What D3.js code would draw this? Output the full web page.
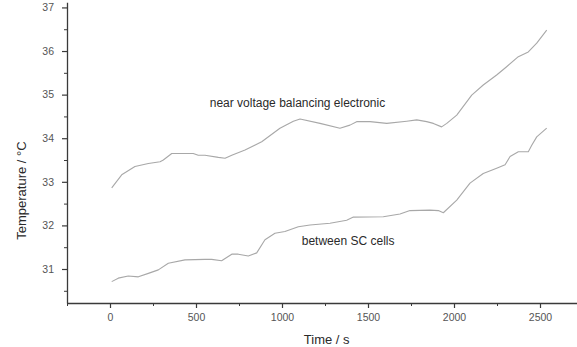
<!DOCTYPE html>
<html>
<head>
<meta charset="utf-8">
<script src="https://cdn.jsdelivr.net/npm/d3@7/dist/d3.min.js"></script>
<style>
  html, body { margin: 0; padding: 0; background: #fff; }
  svg { display: block; font-family: "Liberation Sans", Arial, sans-serif; }
</style>
</head>
<body>
<svg id="chart" width="577" height="347"></svg>
<script>
// Temperature logged near the voltage balancing electronic (s, °C)
const nearTime = [10, 68, 145, 223, 291, 310, 359, 484, 513, 552, 630, 669, 708, 785, 882, 988, 1066, 1105,
  1221, 1337, 1395, 1434, 1512, 1609, 1725, 1783, 1841, 1880, 1928, 1958, 2016, 2103, 2170, 2248, 2306,
  2374, 2432, 2481, 2539];
const nearTemp = [32.86, 33.16, 33.35, 33.42, 33.46, 33.50, 33.65, 33.65, 33.61, 33.61, 33.56, 33.54, 33.61,
  33.73, 33.92, 34.23, 34.39, 34.44, 34.34, 34.23, 34.30, 34.38, 34.38, 34.34, 34.39, 34.42, 34.38, 34.34,
  34.26, 34.34, 34.53, 34.99, 35.22, 35.45, 35.64, 35.87, 35.98, 36.18, 36.48];

// Temperature logged between the SC cells (s, °C)
const cellTime = [10, 48, 106, 165, 223, 281, 339, 436, 552, 591, 649, 708, 746, 804, 853, 901, 959, 1017,
  1095, 1163, 1279, 1376, 1415, 1589, 1686, 1744, 1860, 1909, 1938, 2016, 2093, 2170, 2248, 2297, 2326,
  2374, 2432, 2452, 2481, 2539];
const cellTemp = [30.71, 30.79, 30.84, 30.82, 30.90, 30.98, 31.13, 31.21, 31.22, 31.22, 31.19, 31.34, 31.34,
  31.30, 31.37, 31.67, 31.82, 31.86, 31.97, 32.01, 32.05, 32.12, 32.19, 32.20, 32.26, 32.34, 32.35, 32.34,
  32.29, 32.58, 32.97, 33.19, 33.31, 33.39, 33.58, 33.69, 33.69, 33.84, 34.03, 34.23];

const xTicks = [0, 500, 1000, 1500, 2000, 2500];
const xMinorTicks = [-250, 250, 750, 1250, 1750, 2250, 2750];
const yTicks = [31, 32, 33, 34, 35, 36, 37];
const yMinorTicks = [30.5, 31.5, 32.5, 33.5, 34.5, 35.5, 36.5];

const seriesLabels = ["near voltage balancing electronic", "between SC cells"];
const xTitle = "Time / s";
const yTitle = "Temperature / \u00B0C";

const svg = d3.select("#chart");

const x = d3.scaleLinear().domain([-250, 2750]).range([67, 583]);
const y = d3.scaleLinear().domain([30.22, 37.12]).range([303, 2.2]);

const axisColor = "#3a3a3a";
const tickText = "#555";
const fmt = d3.format("d");

// minor ticks first, so the major axis draws over them
const xMinor = d3.axisBottom(x).tickValues(xMinorTicks).tickSize(3).tickFormat("");
svg.append("g").attr("transform", `translate(0,${y.range()[0]})`).call(xMinor)
  .call(g => g.select(".domain").remove())
  .call(g => g.selectAll("line").attr("stroke", axisColor));

const yMinor = d3.axisLeft(y).tickValues(yMinorTicks).tickSize(3).tickFormat("");
svg.append("g").attr("transform", `translate(${x.range()[0]},0)`).call(yMinor)
  .call(g => g.select(".domain").remove())
  .call(g => g.selectAll("line").attr("stroke", axisColor));

const xAxis = d3.axisBottom(x).tickValues(xTicks).tickFormat(fmt).tickSize(5).tickSizeOuter(0).tickPadding(6);
svg.append("g").attr("transform", `translate(0,${y.range()[0]})`).call(xAxis)
  .call(g => g.select(".domain").attr("stroke", axisColor).attr("stroke-width", 1.3))
  .call(g => g.selectAll("line").attr("stroke", axisColor).attr("stroke-width", 1.2))
  .call(g => g.selectAll("text").attr("fill", tickText)
    .attr("font-family", "'Liberation Sans', Arial, sans-serif").attr("font-size", 10.5));

const yAxis = d3.axisLeft(y).tickValues(yTicks).tickFormat(fmt).tickSize(5).tickSizeOuter(0).tickPadding(8);
svg.append("g").attr("transform", `translate(${x.range()[0]},0)`).call(yAxis)
  .call(g => g.select(".domain").attr("stroke", axisColor).attr("stroke-width", 1.3))
  .call(g => g.selectAll("line").attr("stroke", axisColor).attr("stroke-width", 1.2))
  .call(g => g.selectAll("text").attr("fill", tickText)
    .attr("font-family", "'Liberation Sans', Arial, sans-serif").attr("font-size", 10.5));

// data curves
const line = d3.line().x(d => x(d[0])).y(d => y(d[1])).curve(d3.curveLinear);
const series = [d3.zip(nearTime, nearTemp), d3.zip(cellTime, cellTemp)];
svg.selectAll("path.curve").data(series).join("path")
  .attr("class", "curve")
  .attr("d", line)
  .attr("fill", "none")
  .attr("stroke", "#a8a8a8")
  .attr("stroke-width", 1.1)
  .attr("stroke-linejoin", "round");

// curve annotations
svg.append("text").attr("x", x(580)).attr("y", y(34.72))
  .attr("font-size", 12).attr("fill", "#2a2a2a").text(seriesLabels[0]);
svg.append("text").attr("x", x(1115)).attr("y", y(31.54))
  .attr("font-size", 12).attr("fill", "#2a2a2a").text(seriesLabels[1]);

// axis titles
svg.append("text").attr("x", x(1260)).attr("y", 344)
  .attr("text-anchor", "middle").attr("font-size", 13).attr("fill", "#2a2a2a").text(xTitle);
svg.append("text").attr("transform", `translate(26,${y(32.8)}) rotate(-90)`)
  .attr("text-anchor", "middle").attr("font-size", 13).attr("fill", "#2a2a2a").text(yTitle);
</script>
</body>
</html>
